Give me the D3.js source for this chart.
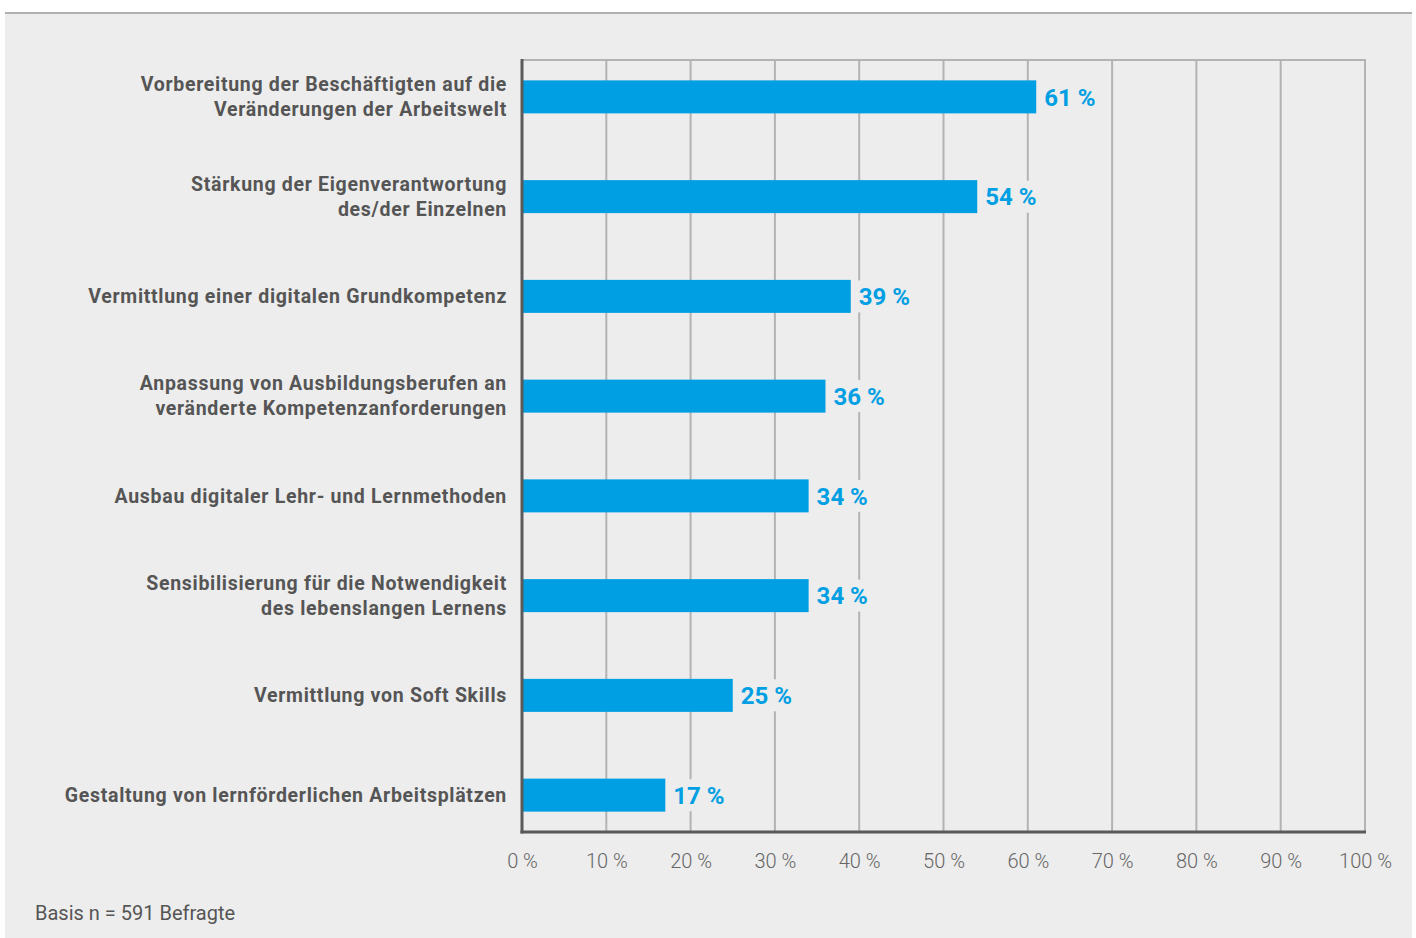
<!DOCTYPE html>
<html>
<head>
<meta charset="utf-8">
<script src="https://cdn.jsdelivr.net/npm/d3@7"></script>
<style>
  body { margin: 0; background: #fff; }
  svg { display: block; }
</style>
</head>
<body>
<div id="chart"></div>
<script>
var categories = [
  ["Vorbereitung der Beschäftigten auf die", "Veränderungen der Arbeitswelt"],
  ["Stärkung der Eigenverantwortung", "des/der Einzelnen"],
  ["Vermittlung einer digitalen Grundkompetenz"],
  ["Anpassung von Ausbildungsberufen an", "veränderte Kompetenzanforderungen"],
  ["Ausbau digitaler Lehr- und Lernmethoden"],
  ["Sensibilisierung für die Notwendigkeit", "des lebenslangen Lernens"],
  ["Vermittlung von Soft Skills"],
  ["Gestaltung von lernförderlichen Arbeitsplätzen"]
];
var values = [61, 54, 39, 36, 34, 34, 25, 17];
var ticks = [0, 10, 20, 30, 40, 50, 60, 70, 80, 90, 100];
var note = "Basis n = 591 Befragte";

var W = 1416, H = 938;
var svg = d3.select("#chart").append("svg")
  .attr("width", W).attr("height", H);

// panel
svg.append("rect").attr("x", 5).attr("y", 13).attr("width", 1407).attr("height", H)
  .attr("fill", "#ededed");
svg.append("line").attr("x1", 5).attr("x2", 1412).attr("y1", 13).attr("y2", 13)
  .attr("stroke", "#b0b0b0").attr("stroke-width", 2);

var plotLeft = 522, plotRight = 1365, plotTop = 60, plotBottom = 832;

var x = d3.scaleLinear().domain([0, 100]).range([plotLeft, plotRight]);
var y = d3.scaleBand().domain(d3.range(categories.length)).range([47, 845]);
var barH = 33;

// grid
svg.append("line").attr("x1", plotLeft).attr("x2", plotRight + 1)
  .attr("y1", plotTop).attr("y2", plotTop)
  .attr("stroke", "#b3b3b3").attr("stroke-width", 2);
svg.selectAll(".grid").data(ticks.slice(1)).enter().append("line")
  .attr("x1", function(d) { return x(d); }).attr("x2", function(d) { return x(d); })
  .attr("y1", plotTop - 1).attr("y2", plotBottom)
  .attr("stroke", "#b3b3b3").attr("stroke-width", 2);

// bars
svg.selectAll(".bar").data(values).enter().append("rect")
  .attr("x", plotLeft)
  .attr("y", function(d, i) { return y(i) + y.bandwidth() / 2 - barH / 2; })
  .attr("width", function(d) { return x(d) - plotLeft; })
  .attr("height", barH)
  .attr("fill", "#009fe3");

// value labels with panel-coloured background
var vl = svg.selectAll(".val").data(values).enter().append("g")
  .attr("transform", function(d, i) {
    return "translate(" + (x(d) + 8) + "," + (y(i) + y.bandwidth() / 2) + ")";
  });
vl.append("rect").attr("x", -3).attr("y", -16).attr("width", 58).attr("height", 32)
  .attr("fill", "#ededed");
vl.append("text")
  .attr("dy", "0.36em")
  .attr("font-family", "Roboto, sans-serif").attr("font-weight", 700)
  .attr("font-size", 24).attr("fill", "#009fe3")
  .text(function(d) { return d + " %"; });

// category labels
var cl = svg.selectAll(".cat").data(categories).enter().append("text")
  .attr("text-anchor", "end")
  .attr("font-family", "Roboto, sans-serif").attr("font-weight", 700)
  .attr("font-size", 19.5).attr("letter-spacing", 0.7).attr("fill", "#555");
cl.each(function(lines, i) {
  var cy = y(i) + y.bandwidth() / 2;
  var t = d3.select(this);
  lines.forEach(function(line, j) {
    t.append("tspan").attr("x", 507)
      .attr("y", cy + (j - (lines.length - 1) / 2) * 25)
      .attr("dy", "0.35em").text(line);
  });
});

// axes
svg.append("line").attr("x1", plotLeft).attr("x2", plotLeft)
  .attr("y1", plotTop - 1).attr("y2", plotBottom + 1.5)
  .attr("stroke", "#5a5a5a").attr("stroke-width", 3);
svg.append("line").attr("x1", plotLeft - 1.5).attr("x2", plotRight + 1)
  .attr("y1", plotBottom).attr("y2", plotBottom)
  .attr("stroke", "#5a5a5a").attr("stroke-width", 3);

var xAxis = svg.append("g").attr("transform", "translate(0," + (plotBottom + 29) + ")")
  .call(d3.axisBottom(x).tickValues(ticks).tickSize(0).tickPadding(0)
    .tickFormat(function(d) { return d + " %"; }));
xAxis.select(".domain").remove();
xAxis.selectAll("text")
  .attr("dy", "0.35em")
  .attr("font-family", "Roboto, sans-serif").attr("font-weight", 300)
  .attr("font-size", 20).attr("fill", "#666");

svg.append("text").attr("x", 35).attr("y", 913).attr("dy", "0.35em")
  .attr("font-family", "Roboto, sans-serif").attr("font-weight", 400)
  .attr("font-size", 20).attr("fill", "#555")
  .text(note);
</script>
</body>
</html>
